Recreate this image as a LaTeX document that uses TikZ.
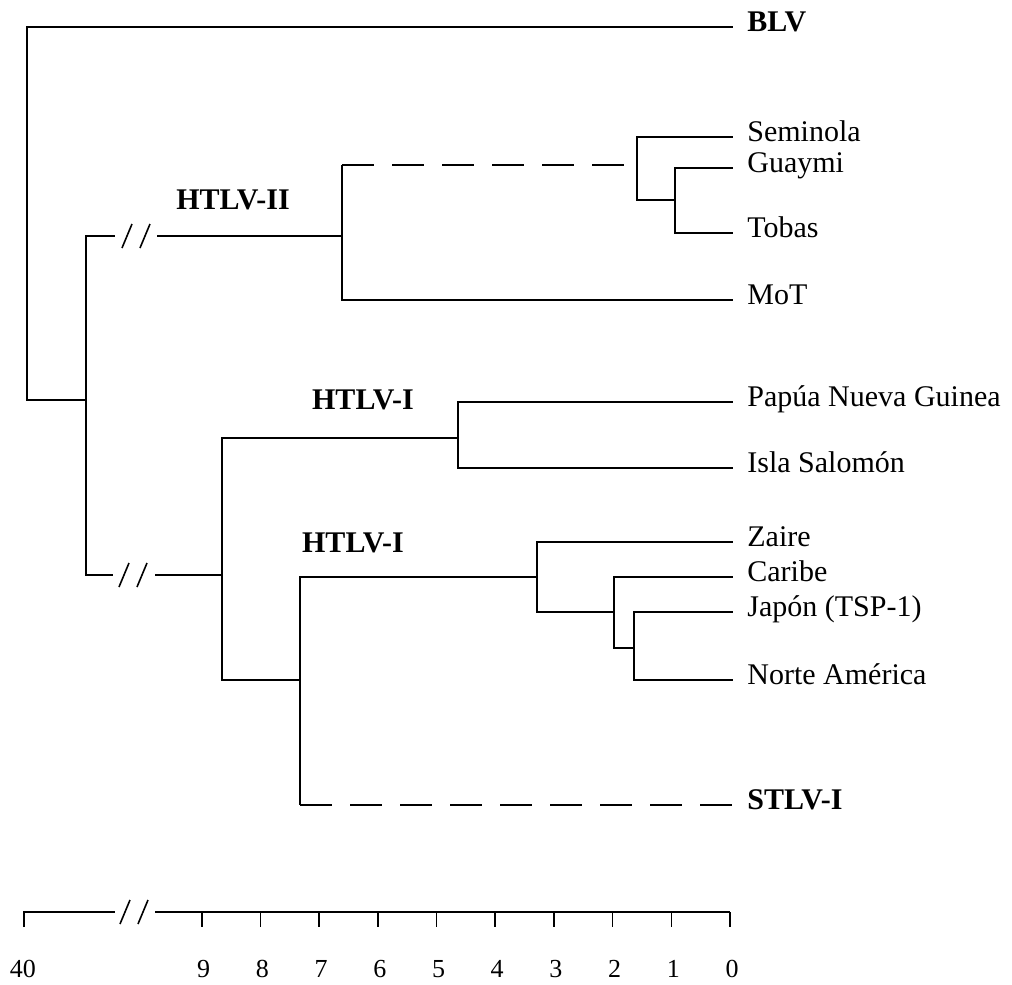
\documentclass[tikz,border=0pt]{standalone}
\usepackage{fontspec}
\setmainfont{Liberation Serif}
\usetikzlibrary{positioning}
\tikzset{
  branch/.style={line width=0.8pt},
  gap line/.style={branch, dash pattern=on 16pt off 9pt},
  leaf/.style={anchor=mid west, inner sep=0pt,
    font=\fontsize{15}{17}\selectfont},
  clade/.style={leaf, font=\fontsize{15}{17}\selectfont\bfseries},
  group/.style={inner sep=0pt, font=\fontsize{15}{17}\selectfont\bfseries},
  scale label/.style={inner sep=0pt, font=\fontsize{13}{15}\selectfont},
  cut/.pic={\draw[branch] (-14,12) -- (-4,-12) (4,12) -- (14,-12);}
}

\begin{document}
\begin{tikzpicture}[x=0.5pt, y=-0.5pt]
    \useasboundingbox (0,0) rectangle (1012,985);

    % Inner nodes of the tree
    \coordinate (root) at (27,200);
    \coordinate (nHTLV) at (86,400);
    \coordinate (nII) at (342,236);
    \coordinate (nSem) at (637,165);
    \coordinate (nGT) at (675,200);
    \coordinate (nI) at (222,575);
    \coordinate (nPNG) at (458,438);
    \coordinate (nS) at (300,680);
    \coordinate (nZ) at (537,577);
    \coordinate (nC) at (614,612);
    \coordinate (nJN) at (634,648);
    % break points
    \coordinate (cutIIa) at (115,236);
    \coordinate (cutIIb) at (157,236);
    \coordinate (cutIa) at (113,575);
    \coordinate (cutIb) at (155,575);

    % Leaf tips
    \coordinate (lBLV) at (733,27);
    \coordinate (lSem) at (733,137);
    \coordinate (lGua) at (733,168);
    \coordinate (lTob) at (733,233);
    \coordinate (lMoT) at (733,300);
    \coordinate (lPNG) at (733,402);
    \coordinate (lIsl) at (733,468);
    \coordinate (lZai) at (733,542);
    \coordinate (lCar) at (733,577);
    \coordinate (lJap) at (733,612);
    \coordinate (lNA) at (733,680);
    \coordinate (lSTLV) at (733,805);

    % Leaf labels
    \node[right=7pt of lBLV, clade] (BLV) {BLV};
    \node[right=7pt of lSem, leaf] (Sem) {Seminola};
    \node[right=7pt of lGua, leaf] (Gua) {Guaymi};
    \node[right=7pt of lTob, leaf] (Tob) {Tobas};
    \node[right=7pt of lMoT, leaf] (MoT) {MoT};
    \node[right=7pt of lPNG, leaf] (PNG) {Papúa Nueva Guinea};
    \node[right=7pt of lIsl, leaf] (Isl) {Isla Salomón};
    \node[right=7pt of lZai, leaf] (Zai) {Zaire};
    \node[right=7pt of lCar, leaf] (Car) {Caribe};
    \node[right=7pt of lJap, leaf] (Jap) {Japón (TSP-1)};
    \node[right=7pt of lNA, leaf] (NA) {Norte América};
    \node[right=7pt of lSTLV, clade] (STLV) {STLV-I};

    % Group labels
    \node[group] (gII) at (233,200) {HTLV-II};
    \node[group] (gIa) at (363,400) {HTLV-I};
    \node[group] (gIb) at (353,543) {HTLV-I};

    % Branches
    \draw[branch] (root) |- (lBLV);
    \draw[branch] (root) |- (nHTLV);
    \draw[branch] (nHTLV) |- (cutIIa);
    \draw[branch] (cutIIb) -- (nII);
    \pic at (136,236) {cut};
    \draw[branch] (nHTLV) |- (cutIa);
    \draw[branch] (cutIb) -- (nI);
    \pic at (133,575) {cut};

    \draw[branch] (nII) -- (nII |- nSem);
    \draw[gap line] (nII |- nSem) -- (nSem);
    \draw[branch] (nII) |- (lMoT);
    \draw[branch] (nSem) |- (lSem);
    \draw[branch] (nSem) |- (nGT);
    \draw[branch] (nGT) |- (lGua);
    \draw[branch] (nGT) |- (lTob);

    \draw[branch] (nI) |- (nPNG);
    \draw[branch] (nPNG) |- (lPNG);
    \draw[branch] (nPNG) |- (lIsl);
    \draw[branch] (nI) |- (nS);
    \draw[branch] (nS) |- (nZ);
    \draw[branch] (nS) -- (nS |- lSTLV);
    \draw[gap line] (nS |- lSTLV) -- (lSTLV);
    \draw[branch] (nZ) |- (lZai);
    \draw[branch] (nZ) |- (nC);
    \draw[branch] (nC) |- (lCar);
    \draw[branch] (nC) |- (nJN);
    \draw[branch] (nJN) |- (lJap);
    \draw[branch] (nJN) |- (lNA);

    % Scale bar
    \coordinate (s40) at (24,912);
    \coordinate (sCuta) at (115,912);
    \coordinate (sCutb) at (155,912);
    \draw[branch] (24,927) -- (s40) -- (sCuta);
    \draw[branch] (sCutb) -- (730,912);
    \pic at (134,912) {cut};
    \node[scale label] (t40) at (23,969) {40};
    \foreach \i in {0,...,9}{
      \coordinate (s\i) at ({730-58.7*\i},912);
      \draw[branch] (s\i) -- ++(0,15);
      \node[scale label] (t\i) at ({732-58.7*\i},969) {\i};
    }
\end{tikzpicture}
\end{document}
